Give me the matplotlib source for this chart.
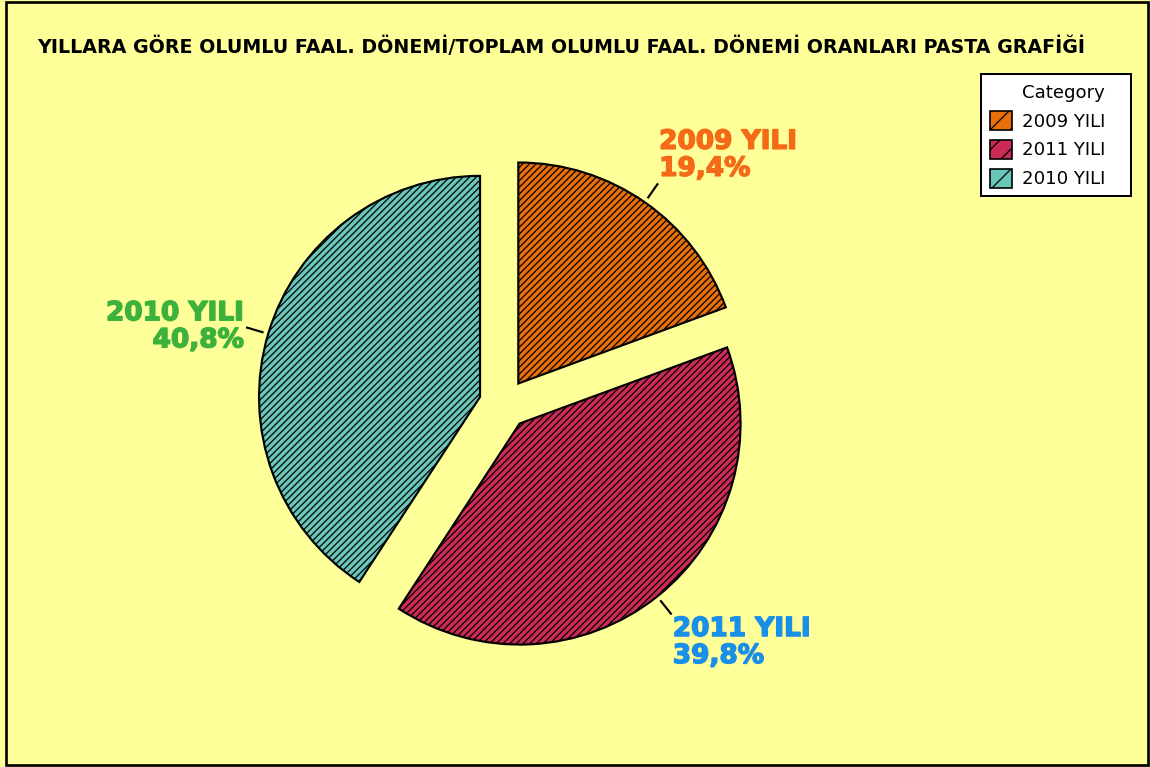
import numpy as np
import matplotlib
matplotlib.use("Agg")
import matplotlib.pyplot as plt
from matplotlib.patches import Rectangle
import matplotlib.patheffects as pe

# ---- data ----
categories = ["2009 YILI", "2011 YILI", "2010 YILI"]
values = [19.4, 39.8, 40.8]
slice_colors = ["#E8700A", "#CD2B57", "#6BC6BA"]
label_colors = ["#F56A16", "#1A8FE8", "#3BB23B"]
title = "YILLARA GÖRE OLUMLU FAAL. DÖNEMİ/TOPLAM OLUMLU FAAL. DÖNEMİ ORANLARI PASTA GRAFİĞİ"
legend_title = "Category"

W, H, DPI = 1150, 767, 120
plt.rcParams["font.family"] = ["DejaVu Sans"]
plt.rcParams["hatch.color"] = "#2a1a10"
plt.rcParams["hatch.linewidth"] = 0.75

fig = plt.figure(figsize=(W / DPI, H / DPI), dpi=DPI, facecolor="#FFFF99")
ax = fig.add_axes([0, 0, 1, 1])
ax.set_facecolor("#FFFF99")

R = 221
cx, cy = 504, H - 404
expl = 25

wedges, _ = ax.pie(values, explode=[expl] * len(values), startangle=90,
                   counterclock=False, radius=R, center=(cx, cy),
                   colors=slice_colors,
                   wedgeprops=dict(edgecolor="black", linewidth=1.3, hatch="//////"))

# labels with leader lines
for w, cat, v, lc in zip(wedges, categories, values, label_colors):
    th = np.deg2rad((w.theta1 + w.theta2) / 2)
    c, s = np.cos(th), np.sin(th)
    ox, oy = w.center
    x0, y0 = ox + (R + 6) * c, oy + (R + 6) * s
    x1, y1 = ox + (R + 22) * c, oy + (R + 22) * s
    ax.plot([x0, x1], [y0, y1], color="black", lw=1.3)
    ha = "left" if c > 0 else "right"
    va = "bottom" if s > 0.5 else ("top" if s < -0.5 else "center")
    tx, ty = ox + (R + 25) * c, oy + (R + 25) * s
    ax.text(tx, ty, f"{cat}\n{v:.1f}%".replace(".", ","), ha=ha, va=va,
            multialignment=ha, color=lc, fontsize=15.8, fontweight="bold",
            linespacing=1.05,
            path_effects=[pe.withStroke(linewidth=0.9, foreground=lc)])

ax.set_xlim(0, W)
ax.set_ylim(0, H)
ax.set_aspect("equal")
ax.axis("off")

# border
ax.add_patch(Rectangle((6, 2), W - 8, H - 4, fill=False, edgecolor="black",
                       lw=1.6, zorder=10, clip_on=False))

# title
fig.text(37 / W, 1 - 53 / H, title, ha="left", va="baseline",
         fontsize=11.4, fontweight="bold", color="black")

# legend
handles = [Rectangle((0, 0), 1, 1, fill=False, edgecolor="none")]
labels = [legend_title + "   "]
for cat, col in zip(categories, slice_colors):
    handles.append(Rectangle((0, 0), 1, 1, facecolor=col, edgecolor="black",
                             hatch="//", lw=1.0))
    labels.append(cat + "   ")
leg = fig.legend(handles, labels, loc="upper right",
                 bbox_to_anchor=(1131 / W, 1 - 74 / H), fontsize=10.9,
                 frameon=True, fancybox=False, edgecolor="black", framealpha=1,
                 handlelength=1.25, handleheight=1.25, handletextpad=0.55,
                 labelspacing=0.5, borderpad=0.45, borderaxespad=0)
leg.get_frame().set_linewidth(1.2)
leg.get_frame().set_facecolor("white")

fig.savefig("out.png", dpi=DPI, facecolor="#FFFF99")
